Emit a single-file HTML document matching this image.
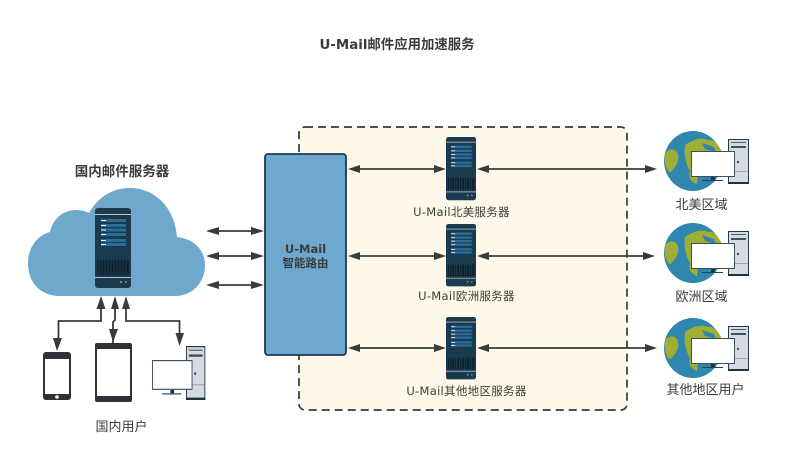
<!DOCTYPE html>
<html><head><meta charset="utf-8"><style>
html,body{margin:0;padding:0;background:#fff}
svg{display:block}
text{font-family:"DejaVu Sans","Noto Sans CJK SC",sans-serif;fill:#3b3b3b;text-anchor:middle}
</style></head><body>
<svg width="802" height="453" viewBox="0 0 802 453" xmlns="http://www.w3.org/2000/svg">
<defs>
<g id="srv">
<rect x="0" y="0" width="36" height="80" rx="3" fill="#1b3a4e"/>
<rect x="0" y="6" width="36" height="1" fill="#b9c6cc"/>
<rect x="0" y="69" width="36" height="1" fill="#b9c6cc"/>
<g fill="#2a6d98"><rect x="6" y="11" width="25" height="3"/><rect x="6" y="16" width="25" height="3"/><rect x="6" y="20.500" width="25" height="3"/><rect x="6" y="25" width="25" height="3"/><rect x="6" y="31" width="25" height="3"/><rect x="6" y="35" width="25" height="3"/></g>
<g fill="#e8f0f4"><rect x="6" y="12" width="5" height="1"/><rect x="6" y="17" width="5" height="1"/><rect x="6" y="21.500" width="5" height="1"/><rect x="6" y="26" width="5" height="1"/><rect x="6" y="32" width="5" height="1"/><rect x="6" y="36" width="5" height="1"/></g>
<rect x="2" y="52" width="32" height="15" fill="#0c2230"/>
<g stroke="#2d5266" stroke-width=".6"><path d="M4 52v15M7 52v15M10 52v15M13 52v15M16 52v15M19 52v15M22 52v15M25 52v15M28 52v15M31 52v15"/></g>
<circle cx="26" cy="74" r="1" fill="#8aa"/><circle cx="31" cy="74" r="1" fill="#a88"/>
</g>
<g id="tower">
<rect x=".5" y=".5" width="20" height="44" fill="#d4dbe2" stroke="#25394a"/>
<rect x="0" y="43" width="21" height="2" fill="#1f3344"/>
<rect x="3" y="3" width="15" height="1" fill="#4d5b66"/>
<rect x="3" y="7" width="15" height="2" fill="#3f5061"/>
<circle cx="10" cy="23" r="1.200" fill="#3e5f7d"/>
<rect x="1" y="32" width="19" height=".7" fill="#8a949c"/>
</g>
<g id="earth">
<ellipse cx="29" cy="30" rx="29" ry="30" fill="#2f86ae"/>
<path d="M2 21C8 16 13 19 14 24C15 29 13 34 9 38C7 42 5 42 3 38C0 32 0 26 2 21Z" fill="#9fae34"/>
<path d="M21 14C30 8 38 6 44 9C50 8 53 12 57 19L59 30L34 42L33 53C27 51 24 46 26 40C21 32 20 22 21 14Z" fill="#9fae34"/>
<path d="M38 12L50 16L52 21L41 18Z" fill="#2f86ae"/>
</g>
<g id="monitor">
<rect x=".5" y=".5" width="43" height="25" fill="#fff" stroke="#3f4d59"/>
<rect x="20" y="26" width="4" height="3" fill="#123a4d"/>
<rect x="11" y="29" width="21" height="1" fill="#2b3e4d"/>
</g>
<g id="site"><use href="#earth" x="0" y="0"/><use href="#tower" x="64" y="8"/><use href="#monitor" x="27" y="20"/></g>
</defs>
<rect width="802" height="453" fill="#fff"/>
<text x="397" y="49" font-size="13.400" font-weight="700" fill="#333">U-Mail邮件应用加速服务</text>

<rect x="299" y="127" width="328" height="283" rx="6" fill="#fdf8e9" stroke="#333a3e" stroke-width="1.700" stroke-dasharray="8 5"/>

<path d="M60 296C40 296 28 282 28 263C28 247 38 235 50 232C53 218 64 210 76 210C81 210 85 211 89 213C98 197 113 188 130 188C155 188 175 208 177 237C194 239 205 250 205 265C205 283 192 296 175 296Z" fill="#6fa8cc"/>
<text x="122" y="176" font-size="13.500" font-weight="700" fill="#333">国内邮件服务器</text>
<use href="#srv" x="95" y="208"/>

<rect x="265" y="154" width="81" height="201" rx="3" fill="#6fa8cf" stroke="#1f3a4d" stroke-width="1.800"/>
<text x="305.500" y="253" font-size="11.500" font-weight="700" fill="#24404f">U-Mail</text>
<text x="305.500" y="267" font-size="11.500" font-weight="700" fill="#24404f">智能路由</text>

<g stroke="#3a3a38" stroke-width="1.800" fill="none">
<path d="M210 231H260M210 256H260M210 285H260"/>
<path d="M351 169H442M351 256H442M351 348H442"/>
<path d="M482 169H650M482 256H648M482 348H650"/>
<path d="M101 305V321H58.500V345M115 305V320L113 322V345M126 305V321H179.500V340"/>
</g>
<g fill="#3a3a38">
<path d="M206 231L219 227V235ZM264 231L251 227V235ZM206 256L219 252V260ZM264 256L251 252V260ZM206 285L219 281V289ZM264 285L251 281V289Z"/>
<path d="M348 169L360 165V173ZM446 169L434 165V173ZM348 256L360 252V260ZM446 256L434 252V260ZM348 348L360 344V352ZM446 348L434 344V352Z"/>
<path d="M477 169L489 165V173ZM657 169L645 165V173ZM477 256L489 252V260ZM655 256L643 252V260ZM477 348L489 344V352ZM657 348L645 344V352Z"/>
<path d="M101 296L96.500 309H105.500ZM115 296L111 309H119ZM126 296L122 309H130Z"/>
<path d="M57 351L53 338H62ZM113 342L109 329H118ZM179.500 346L175.500 333H184Z"/>
</g>

<g transform="translate(446,137) scale(.834,.79)"><use href="#srv"/></g>
<g transform="translate(446,224) scale(.834,.78)"><use href="#srv"/></g>
<g transform="translate(446,317) scale(.834,.78)"><use href="#srv"/></g>
<text x="461.500" y="216" font-size="11.500" letter-spacing=".3">U-Mail北美服务器</text>
<text x="466.500" y="300" font-size="11.500" letter-spacing=".3">U-Mail欧洲服务器</text>
<text x="466.500" y="395" font-size="11.500" letter-spacing=".3">U-Mail其他地区服务器</text>

<use href="#site" x="664" y="131"/>
<use href="#site" x="664" y="223"/>
<use href="#site" x="664" y="318"/>
<text x="701.500" y="209" font-size="13">北美区域</text>
<text x="701.500" y="301" font-size="13">欧洲区域</text>
<text x="705.500" y="394" font-size="13">其他地区用户</text>

<rect x="43" y="352" width="28" height="48" rx="3" fill="#2e3238"/>
<rect x="45" y="359" width="24" height="35" fill="#fff"/>
<circle cx="57" cy="397" r="1.800" fill="#fff"/>
<rect x="95" y="343" width="37" height="59" rx="2" fill="#2e3238"/>
<rect x="97" y="349" width="33" height="47" fill="#fff"/>
<use href="#tower" transform="translate(186,346) scale(.92,1.200)"/>
<g transform="translate(152,360) scale(.92,1.150)"><use href="#monitor"/></g>
<text x="121.500" y="431" font-size="13">国内用户</text>
</svg>
</body></html>
